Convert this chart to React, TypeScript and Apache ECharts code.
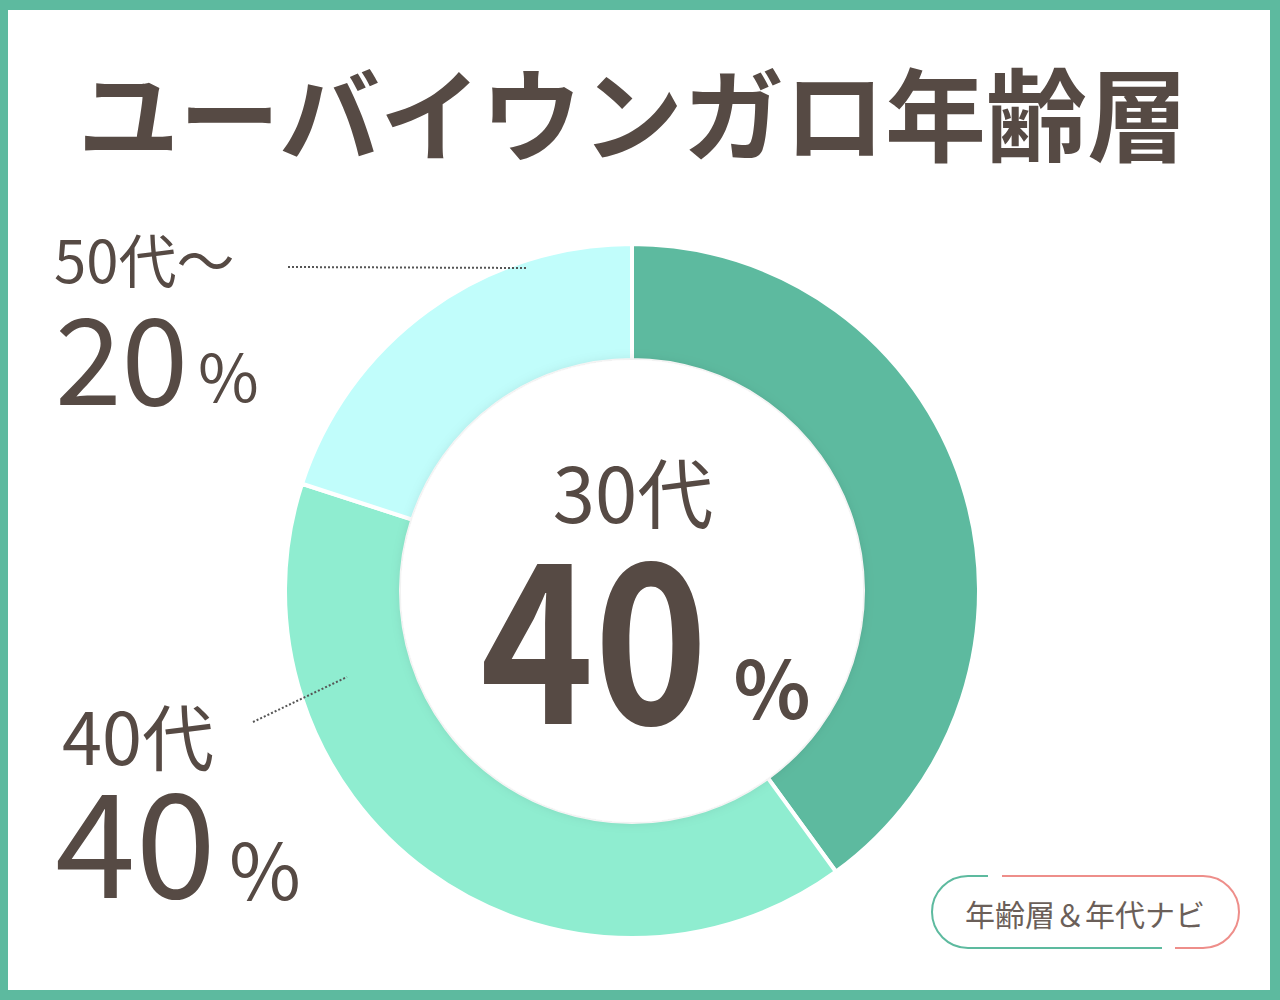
import React, { useEffect, useRef } from "react";
import * as echarts from "echarts";

const categories = ["30代", "40代", "50代～"];
const values = [40, 40, 20];
const colors = ["#5dba9f", "#8fedd0", "#c1fdfb"];
const titleText = "ユーバイウンガロ年齢層";
const badgeText = "年齢層＆年代ナビ";

const TEXT = "#564a44";
const FONT = '"Noto Sans CJK JP", "Noto Sans", sans-serif';

export default function App() {
  const ref = useRef<HTMLDivElement>(null);
  useEffect(() => {
    const chart = echarts.init(ref.current!, null, { renderer: "svg" });
    const total = values.reduce((a, b) => a + b, 0);
    const pct = values.map((v) => String(Math.round((v / total) * 100)));
    const t = (
      text: string,
      x: number,
      y: number,
      size: number,
      align: string,
      weight: any = "normal",
      fill = TEXT,
      scaleX = 1
    ) => ({
      type: "text",
      x,
      y,
      z: 30,
      scaleX,
      style: {
        text,
        fill,
        font: `${weight} ${size}px ${FONT}`,
        align,
        verticalAlign: "middle",
      },
    });
    const option: any = {
      animation: false,
      backgroundColor: "#5dba9f",
      graphic: [
        { type: "rect", z: -10, shape: { x: 8, y: 10, width: 1262, height: 980 }, style: { fill: "#ffffff" } },
        t(titleText, 633, 110, 101, "center", "bold"),
        // 50代～ / 20%
        t(categories[2], 54, 258, 58, "left"),
        t(pct[2], 55, 353, 120, "left"),
        t("%", 198, 373, 66, "left"),
        // 40代 / 40%
        t(categories[1], 62, 733, 72, "left"),
        t(pct[1], 55, 835, 145, "left"),
        t("%", 229, 866, 78, "left"),
        // 30代 center
        t(categories[0], 633, 490, 76, "center"),
        t(pct[0], 594, 627, 222, "center", "bold", TEXT, 0.87),
        t("%", 772, 684, 80, "center", "bold"),
        // leader lines
        {
          type: "line", z: 25,
          shape: { x1: 288, y1: 267, x2: 527, y2: 268 },
          style: { stroke: "#555", lineWidth: 2, lineDash: [2, 2] },
        },
        {
          type: "line", z: 25,
          shape: { x1: 253, y1: 722, x2: 347, y2: 677 },
          style: { stroke: "#555", lineWidth: 2, lineDash: [2, 2] },
        },
        // inner circle with soft shadow
        {
          type: "circle", z: 20,
          shape: { cx: 632, cy: 591, r: 231 },
          style: { fill: "#ffffff", shadowBlur: 12, shadowColor: "rgba(0,0,0,0.11)" },
        },
        // badge
        {
          type: "polyline", z: 25,
          shape: { points: [[988, 876], [968, 876]] },
          style: { stroke: "#5dba9f", lineWidth: 2, fill: null },
        },
        {
          type: "arc", z: 25,
          shape: { cx: 968, cy: 912, r: 36, startAngle: Math.PI / 2, endAngle: (3 * Math.PI) / 2, clockwise: true },
          style: { stroke: "#5dba9f", lineWidth: 2, fill: null },
        },
        {
          type: "polyline", z: 25,
          shape: { points: [[968, 948], [1162, 948]] },
          style: { stroke: "#5dba9f", lineWidth: 2, fill: null },
        },
        {
          type: "polyline", z: 25,
          shape: { points: [[1002, 876], [1203, 876]] },
          style: { stroke: "#ee8e8a", lineWidth: 2, fill: null },
        },
        {
          type: "arc", z: 25,
          shape: { cx: 1203, cy: 912, r: 36, startAngle: -Math.PI / 2, endAngle: Math.PI / 2, clockwise: true },
          style: { stroke: "#ee8e8a", lineWidth: 2, fill: null },
        },
        {
          type: "polyline", z: 25,
          shape: { points: [[1203, 948], [1175, 948]] },
          style: { stroke: "#ee8e8a", lineWidth: 2, fill: null },
        },
        t(badgeText, 1085, 913, 30, "center", "normal", "#6b5f59"),
      ],
      series: [
        {
          type: "pie",
          center: [632, 591],
          radius: [231, 347],
          startAngle: 90,
          clockwise: true,
          silent: true,
          label: { show: false },
          labelLine: { show: false },
          itemStyle: { borderColor: "#ffffff", borderWidth: 4 },
          data: categories.map((c, i) => ({ name: c, value: values[i], itemStyle: { color: colors[i] } })),
        },
      ],
    };
    chart.setOption(option);
    return () => chart.dispose();
  }, []);
  return <div ref={ref} style={{ position: "fixed", left: 0, top: 0, width: 1280, height: 1000 }} />;
}
